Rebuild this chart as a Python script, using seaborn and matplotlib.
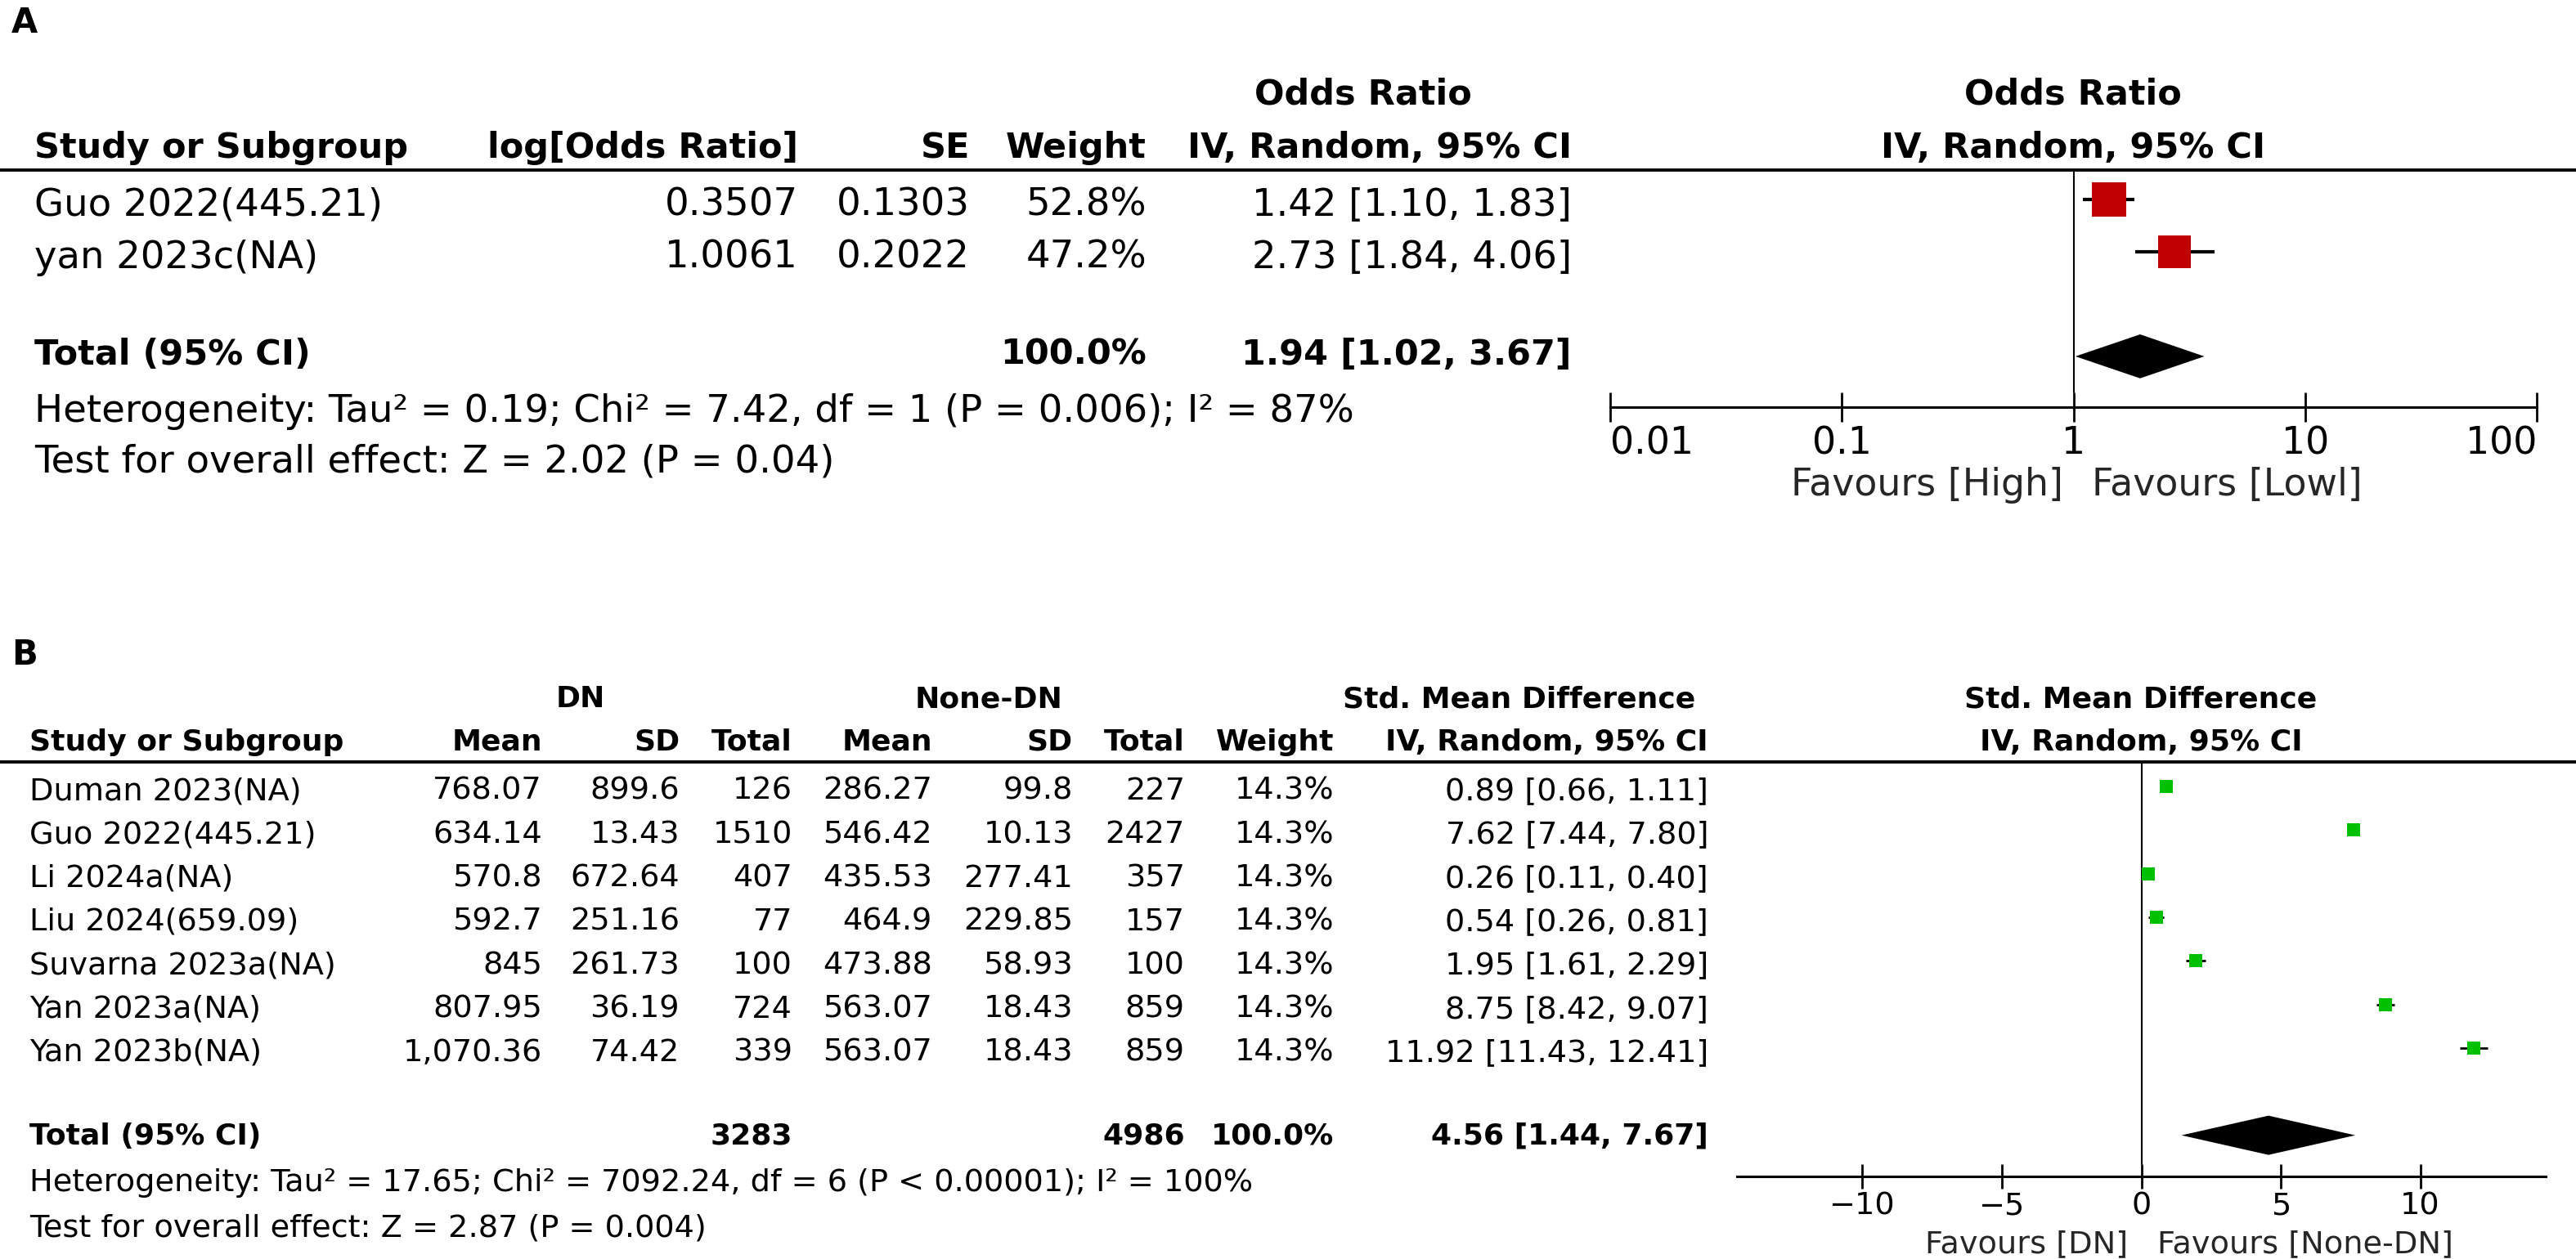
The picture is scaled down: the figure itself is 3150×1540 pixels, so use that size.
import numpy as np
import pandas as pd
import seaborn as sns
import matplotlib.pyplot as plt
from matplotlib.ticker import NullLocator

sns.set_theme(style='white')
plt.rcParams['font.family'] = ['DejaVu Sans']

#%% panel A data (log odds ratio, IV random)
a_study = ['Guo 2022(445.21)', 'yan 2023c(NA)']
a_logor = [0.3507, 1.0061]
a_se = [0.1303, 0.2022]
a_weight = [52.8, 47.2]
a_or = [1.42, 2.73]
a_lo = [1.10, 1.84]
a_hi = [1.83, 4.06]
a_total = [1.94, 1.02, 3.67]
a_het = 'Heterogeneity: Tau² = 0.19; Chi² = 7.42, df = 1 (P = 0.006); I² = 87%'
a_test = 'Test for overall effect: Z = 2.02 (P = 0.04)'
a_ticks = [0.01, 0.1, 1, 10, 100]
a_favours = ['Favours [High]', 'Favours [Lowl]']

#%% panel B data (std. mean difference, IV random)
b_study = ['Duman 2023(NA)', 'Guo 2022(445.21)', 'Li 2024a(NA)', 'Liu 2024(659.09)',
           'Suvarna 2023a(NA)', 'Yan 2023a(NA)', 'Yan 2023b(NA)']
b_dn_mean = [768.07, 634.14, 570.8, 592.7, 845, 807.95, 1070.36]
b_dn_sd = [899.6, 13.43, 672.64, 251.16, 261.73, 36.19, 74.42]
b_dn_n = [126, 1510, 407, 77, 100, 724, 339]
b_ctl_mean = [286.27, 546.42, 435.53, 464.9, 473.88, 563.07, 563.07]
b_ctl_sd = [99.8, 10.13, 277.41, 229.85, 58.93, 18.43, 18.43]
b_ctl_n = [227, 2427, 357, 157, 100, 859, 859]
b_weight = [14.3, 14.3, 14.3, 14.3, 14.3, 14.3, 14.3]
b_smd = [0.89, 7.62, 0.26, 0.54, 1.95, 8.75, 11.92]
b_lo = [0.66, 7.44, 0.11, 0.26, 1.61, 8.42, 11.43]
b_hi = [1.11, 7.80, 0.40, 0.81, 2.29, 9.07, 12.41]
b_total = [4.56, 1.44, 7.67]
b_het = 'Heterogeneity: Tau² = 17.65; Chi² = 7092.24, df = 6 (P < 0.00001); I² = 100%'
b_test = 'Test for overall effect: Z = 2.87 (P = 0.004)'
b_ticks = [-10, -5, 0, 5, 10]
b_favours = ['Favours [DN]', 'Favours [None-DN]']

W, H = 3150, 1540
FS_A, FSB_A = 33.5, 31
FS_B, FSB_B = 27.5, 26


def num(v):
    s = f'{v:,.2f}'
    if '.' in s:
        s = s.rstrip('0').rstrip('.')
    return s


def ci(e, lo, hi):
    return f'{e:.2f} [{lo:.2f}, {hi:.2f}]'


fig = plt.figure(figsize=(W / 100, H / 100), dpi=100)
cv = fig.add_axes([0, 0, 1, 1])
cv.set_xlim(0, W)
cv.set_ylim(H, 0)
cv.axis('off')


def txt(x, y, s, ha='left', bold=False, size=FS_A):
    cv.text(x, y, s, ha=ha, va='baseline', fontsize=size,
            fontweight='bold' if bold else 'normal', color='black')


def px_axes(x0, x1, ytop, ybot):
    ax = fig.add_axes([x0 / W, 1 - ybot / H, (x1 - x0) / W, (ybot - ytop) / H])
    ax.set_facecolor('none')
    return ax


def style_axis(ax, ticks, labels, tick_len, size):
    for sp in ['left', 'right', 'top']:
        ax.spines[sp].set_visible(False)
    ax.spines['bottom'].set_color('black')
    ax.spines['bottom'].set_linewidth(2.2)
    ax.set_yticks([])
    ax.set_xticks(ticks)
    ax.xaxis.set_minor_locator(NullLocator())
    ax.set_xticklabels(labels)
    ax.tick_params(axis='x', bottom=True, direction='inout', length=tick_len, width=2,
                   color='black', labelcolor='black', labelsize=size, pad=3)
    ax.set_xlabel('')
    ax.set_ylabel('')


#%% ---------------- panel A table
txt(14, 40, 'A', bold=True, size=30)
txt(1667, 128, 'Odds Ratio', ha='center', bold=True, size=FSB_A)
txt(2535, 128, 'Odds Ratio', ha='center', bold=True, size=FSB_A)
txt(42, 193, 'Study or Subgroup', bold=True, size=FSB_A)
txt(976, 193, 'log[Odds Ratio]', ha='right', bold=True, size=FSB_A)
txt(1186, 193, 'SE', ha='right', bold=True, size=FSB_A)
txt(1402, 193, 'Weight', ha='right', bold=True, size=FSB_A)
txt(1922, 193, 'IV, Random, 95% CI', ha='right', bold=True, size=FSB_A)
txt(2535, 193, 'IV, Random, 95% CI', ha='center', bold=True, size=FSB_A)
cv.plot([0, W], [208, 208], color='black', lw=2.8)

for i in range(len(a_study)):
    yb = 264 + 64 * i
    txt(42, yb, a_study[i])
    txt(976, yb, f'{a_logor[i]:.4f}', ha='right')
    txt(1186, yb, f'{a_se[i]:.4f}', ha='right')
    txt(1402, yb, f'{a_weight[i]:.1f}%', ha='right')
    txt(1922, yb, ci(a_or[i], a_lo[i], a_hi[i]), ha='right')

txt(42, 446, 'Total (95% CI)', bold=True, size=FSB_A)
txt(1402, 446, '100.0%', ha='right', bold=True, size=FSB_A)
txt(1922, 446, ci(*a_total), ha='right', bold=True, size=FSB_A)
txt(42, 516, a_het)
txt(42, 577, a_test)

#%% ---------------- panel A forest
axA = px_axes(1969, 3102, 208, 498)
dfA = pd.DataFrame({'est': a_or, 'lo': a_lo, 'hi': a_hi, 'w': a_weight,
                    'row': np.arange(len(a_or))})
axA.hlines(dfA['row'], dfA['lo'], dfA['hi'], color='black', lw=3, zorder=2)
sns.scatterplot(data=dfA, x='est', y='row', marker='s', s=912 * dfA['w'] / 52.8,
                color='#C00000', linewidth=0, legend=False, ax=axA, zorder=3)
rowA = len(a_or) + 1
axA.fill([a_total[1], a_total[0], a_total[2], a_total[0]],
         [rowA, rowA - 0.42, rowA, rowA + 0.42], color='black', lw=0, zorder=3)
axA.set_xscale('log')
axA.set_xlim(a_ticks[0], a_ticks[-1])
axA.set_ylim(3.97, -0.56)
axA.axvline(1, ymin=18 / 290, ymax=1, color='black', lw=1.5, zorder=1)
style_axis(axA, a_ticks, [f'{t:g}' for t in a_ticks], 26, 33)
labs = axA.get_xticklabels()
labs[0].set_ha('left')
labs[-1].set_ha('right')
axA.annotate(a_favours[0], xy=(1, 0), xycoords=('data', 'axes fraction'), xytext=(-9, -78),
             textcoords='offset points', ha='right', va='baseline', fontsize=33)
axA.annotate(a_favours[1], xy=(1, 0), xycoords=('data', 'axes fraction'), xytext=(16, -78),
             textcoords='offset points', ha='left', va='baseline', fontsize=33)

#%% ---------------- panel B table
txt(14, 813, 'B', bold=True, size=30)
txt(710, 865, 'DN', ha='center', bold=True, size=FSB_B)
txt(1209, 865, 'None-DN', ha='center', bold=True, size=FSB_B)
txt(2073, 865, 'Std. Mean Difference', ha='right', bold=True, size=FSB_B)
txt(2618, 865, 'Std. Mean Difference', ha='center', bold=True, size=FSB_B)
hdr = [(663, 'Mean'), (831, 'SD'), (969, 'Total'), (1140, 'Mean'), (1312, 'SD'),
       (1449, 'Total'), (1631, 'Weight'), (2089, 'IV, Random, 95% CI')]
txt(36, 918, 'Study or Subgroup', bold=True, size=FSB_B)
for x, s in hdr:
    txt(x, 918, s, ha='right', bold=True, size=FSB_B)
txt(2618, 918, 'IV, Random, 95% CI', ha='center', bold=True, size=FSB_B)
cv.plot([0, W], [932, 932], color='black', lw=2.8)

for i in range(len(b_study)):
    yb = 978 + 53.33 * i
    txt(36, yb, b_study[i], size=FS_B)
    cols = [num(b_dn_mean[i]), num(b_dn_sd[i]), str(b_dn_n[i]), num(b_ctl_mean[i]),
            num(b_ctl_sd[i]), str(b_ctl_n[i]), f'{b_weight[i]:.1f}%',
            ci(b_smd[i], b_lo[i], b_hi[i])]
    for (x, _), s in zip(hdr, cols):
        txt(x, yb, s, ha='right', size=FS_B)

txt(36, 1400, 'Total (95% CI)', bold=True, size=FSB_B)
txt(969, 1400, str(sum(b_dn_n)), ha='right', bold=True, size=FSB_B)
txt(1449, 1400, str(sum(b_ctl_n)), ha='right', bold=True, size=FSB_B)
txt(1631, 1400, '100.0%', ha='right', bold=True, size=FSB_B)
txt(2089, 1400, ci(*b_total), ha='right', bold=True, size=FSB_B)
txt(36, 1457, b_het, size=FS_B)
txt(36, 1513, b_test, size=FS_B)

#%% ---------------- panel B forest
axB = px_axes(2124, 3113, 932, 1439)
dfB = pd.DataFrame({'est': b_smd, 'lo': b_lo, 'hi': b_hi, 'w': b_weight,
                    'row': np.arange(len(b_smd))})
axB.hlines(dfB['row'], dfB['lo'], dfB['hi'], color='black', lw=2, zorder=2)
sns.scatterplot(data=dfB, x='est', y='row', marker='s', s=132 * dfB['w'] / 14.3,
                color='#00C000', linewidth=0, legend=False, ax=axB, zorder=3)
rowB = len(b_smd) + 1
axB.fill([b_total[1], b_total[0], b_total[2], b_total[0]],
         [rowB, rowB - 0.45, rowB, rowB + 0.45], color='black', lw=0, zorder=3)
axB.set_xlim(-14.5, 14.5)
axB.set_ylim(8.944, -0.5625)
axB.axvline(0, ymin=15 / 507, ymax=1, color='black', lw=1.5, zorder=1)
style_axis(axB, b_ticks, [f'{t:g}'.replace('-', '\u2212') for t in b_ticks], 21, FS_B)
axB.annotate(b_favours[0], xy=(0, 0), xycoords=('data', 'axes fraction'), xytext=(-12, -67),
             textcoords='offset points', ha='right', va='baseline', fontsize=FS_B)
axB.annotate(b_favours[1], xy=(0, 0), xycoords=('data', 'axes fraction'), xytext=(14, -67),
             textcoords='offset points', ha='left', va='baseline', fontsize=FS_B)

plt.savefig('out.png', dpi=100)
